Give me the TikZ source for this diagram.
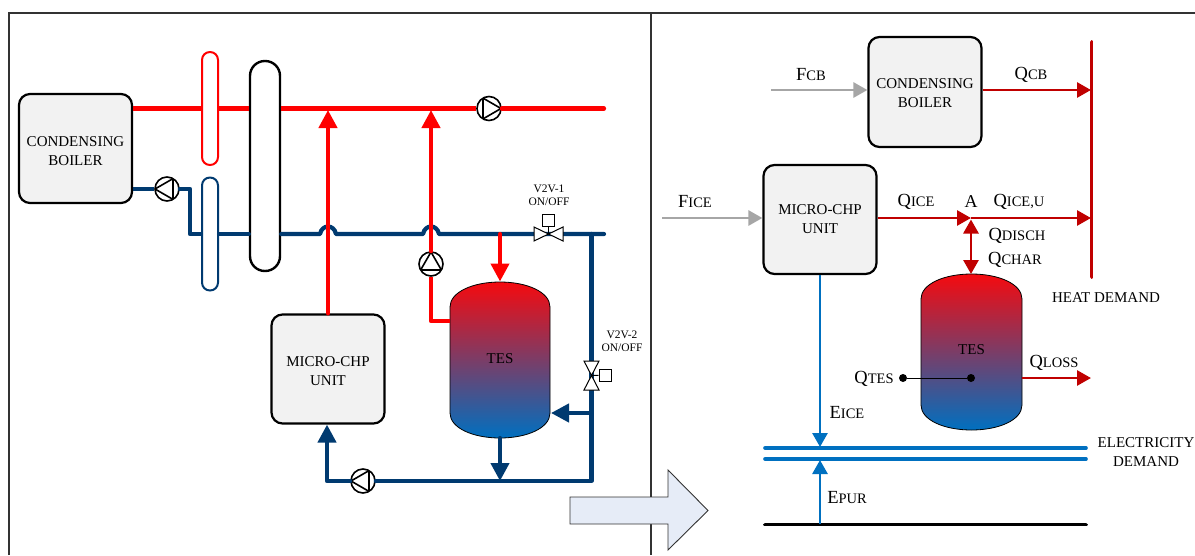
\documentclass[tikz,border=0pt]{standalone}
\usepackage{fontspec}
\setmainfont{Liberation Serif}
\usetikzlibrary{arrows.meta,calc}
\definecolor{pipered}{HTML}{FF0000}
\definecolor{pipeblue}{HTML}{003A70}
\definecolor{heatred}{HTML}{C00000}
\definecolor{elblue}{HTML}{0070C0}
\definecolor{fuelgray}{HTML}{A6A6A6}
\definecolor{boxgray}{HTML}{F2F2F2}
\definecolor{tanktop}{HTML}{F50A0F}
\definecolor{tankbot}{HTML}{0070C0}
\definecolor{bigarrow}{HTML}{E6ECF7}
\newcommand{\varlab}[2]{{\fontsize{18.5}{18}\selectfont #1}{\fontsize{14.5}{15}\selectfont #2}}
\tikzset{
  unitbox/.style={draw=black,line width=2.2pt,fill=boxgray,rounded corners=11pt,minimum width=113pt,minimum height=109pt,inner sep=0pt},
  boxtxt/.style={align=center,inner sep=0pt,font=\fontsize{15}{19}\selectfont},
  capsule/.style={draw=#1,line width=2pt,fill=white,rounded corners=7.9pt,minimum width=16pt,minimum height=113pt,inner sep=0pt},
  pump/.style={circle,draw=black,line width=1.6pt,fill=white,minimum size=24pt,inner sep=0pt,
    path picture={\draw[black,line width=1.6pt,line join=round,x=1pt,y=1pt,shift={(path picture bounding box.center)}] (#1:12)--({#1+120}:12)--({#1+240}:12)--cycle;}},
  redpipe/.style={pipered,line width=4.2pt,line cap=round,line join=round},
  bluepipe/.style={pipeblue,line width=4.2pt,line cap=round,line join=round},
  redtip/.style={redpipe,-{Triangle[length=18pt,width=18pt]}},
  bluetip/.style={bluepipe,-{Triangle[length=18pt,width=18pt]}},
  flowtip/.style={-{Triangle[length=14pt,width=15pt]},line width=2.8pt},
  ctrlbox/.style={draw=black,line width=1pt,fill=white,minimum size=12pt,inner sep=0pt},
  valvetri/.style={draw=black,line width=1pt,fill=white,line join=miter},
  smalltxt/.style={font=\fontsize{11.5}{13}\selectfont,align=center,inner sep=0pt},
  mediumtxt/.style={font=\fontsize{15}{19}\selectfont,align=center,inner sep=0pt},
  varlabel/.style={inner sep=0pt},
  tankbody/.style={draw=black,line width=.8pt,top color=tanktop,bottom color=tankbot,middle color=tanktop!50!tankbot},
  dotnode/.style={circle,fill=black,minimum size=8pt,inner sep=0pt},
  framing/.style={draw=black!80,line width=1.3pt}
}
\begin{document}
\begin{tikzpicture}[x=1pt,y=-1pt]
\useasboundingbox (0,0) rectangle (1195,555);
% frame
\coordinate (ftl) at (9,13); \coordinate (ftr) at (1195,13); \coordinate (fbl) at (9,555);
\coordinate (dt) at (651,13); \coordinate (db) at (651,555);
\draw[framing] (fbl) -- (ftl) -- (ftr);
\draw[framing] (dt) -- (db);

%%% LEFT PANEL
\node[unitbox] (cb1) at (75.5,148.5) {};
\node[boxtxt] (cb1t) at (75.5,151.5) {CONDENSING\\BOILER};
\node[unitbox] (mc1) at (328,369) {};
\node[boxtxt] (mc1t) at (328,371) {MICRO-CHP\\UNIT};
\node[capsule=pipered] (hr) at (210,108.5) {};
\node[capsule=pipeblue] (hb) at (210,234) {};
\node[draw=black,line width=2.4pt,fill=white,rounded corners=14.8pt,minimum width=30pt,minimum height=210pt,inner sep=0pt] (hx) at (265,166) {};
\node[pump=0] (p4) at (489,108.5) {};
\node[pump=180] (p1) at (167,189) {};
\node[pump=90] (p3) at (431,264) {};
\node[pump=180] (p2) at (363,481) {};

% tank
\shade[tankbody] (450,307) .. controls (450,292) and (473,282) .. (500,282) .. controls (527,282) and (550,292) .. (550,307) -- (550,413) .. controls (550,428) and (527,438) .. (500,438) .. controls (473,438) and (450,428) .. (450,413) -- cycle;
\node[font=\fontsize{15}{17}\selectfont,inner sep=0pt] (tes1) at (500,359) {TES};
\coordinate (tes1top) at (500,281.5); \coordinate (tes1bot) at (500,438);
\coordinate (tes1l) at (450,321); \coordinate (tes1r) at (551,413);

% hot pipes
\coordinate (redend) at (604,108.5);
\coordinate (j1) at (328,110); \coordinate (j2) at (431,110);
\coordinate (rb) at (431,321);
\coordinate (bluetap) at (500,234);
\draw[redpipe,line cap=butt] (cb1.east|-hr.west) -- (hr.west);
\draw[redpipe,line cap=butt] (hr.east) -- (hx.west|-hr.east);
\draw[redpipe,line cap=butt] (hx.east|-hr.east) -- (p4.west);
\draw[redpipe] (p4.east) -- (redend);

% cold pipes
\coordinate (c1) at (190,189); \coordinate (c2) at (190,234);
\coordinate (bendA) at (320,234); \coordinate (bendB) at (336,234);
\coordinate (bendC) at (423,234); \coordinate (bendD) at (439,234);
\coordinate (blueend) at (604,234);
\coordinate (rc) at (591.5,234);
\coordinate (rd) at (591.5,481);
\coordinate (rf) at (327,481);
\coordinate (rg) at (591.5,413);
\draw[bluepipe,line cap=butt] (cb1.east|-p1.west) -- (p1.west);
\draw[bluepipe] (p1.east) -- (c1) -- (c2) -- (hb.west);
\draw[bluepipe] (hb.east) -- (hx.west|-hb.east);
\draw[bluepipe] (hx.east|-hb.east) -- (bendA) .. controls (322,224) and (334,224) .. (bendB)
   -- (bendC) .. controls (425,224) and (437,224) .. (bendD) -- (blueend);
\draw[bluepipe] (rc) -- (rd) -- (p2.east);
\draw[bluetip] (p2.west) -- (rf) -- (mc1.south-|rf);
\draw[bluetip] (rg) -- (tes1r);
\draw[bluetip] (tes1bot) -- (500,481);

% vertical red
\draw[redtip] (mc1.north-|j1) -- (j1);
\draw[redpipe,line cap=butt] (tes1l) -- (rb) -- (p3.south);
\draw[redtip] (p3.north) -- (j2);
\draw[redtip] (bluetap) -- (tes1top);

% valves
\coordinate (v1) at (548.5,234);
\draw[valvetri] (v1) -- (534,227) -- (534,241) -- cycle;
\draw[valvetri] (v1) -- (563,227) -- (563,241) -- cycle;
\node[ctrlbox] (v1b) at (548.5,220) {};
\draw[black,line width=1pt] (v1) -- (v1b);
\coordinate (v2) at (591.5,375.5);
\draw[valvetri] (v2) -- (584,361) -- (599,361) -- cycle;
\draw[valvetri] (v2) -- (584,390) -- (599,390) -- cycle;
\node[ctrlbox] (v2b) at (605,375) {};
\draw[black,line width=1pt] (v2) -- (v2b);
\node[smalltxt] (v1t) at (549,195) {V2V-1\\ON/OFF};
\node[smalltxt] (v2t) at (622,341) {V2V-2\\ON/OFF};

% big arrow
\draw[draw=black!80,line width=.9pt,fill=bigarrow,line join=miter] (570,497) -- (668,497) -- (668,470) -- (708,510.5) -- (668,550) -- (668,524) -- (570,524) -- cycle;

%%% RIGHT PANEL
\node[unitbox,minimum height=110pt] (cb2) at (925,92) {};
\node[boxtxt] (cb2t) at (925,93) {CONDENSING\\BOILER};
\node[unitbox,minimum height=109pt] (mc2) at (820,219.5) {};
\node[boxtxt] (mc2t) at (820,219.5) {MICRO-CHP\\UNIT};
\shade[tankbody] (921,299) .. controls (921,284) and (944,274) .. (971.5,274) .. controls (999,274) and (1022,284) .. (1022,299) -- (1022,405) .. controls (1022,420) and (999,430) .. (971.5,430) .. controls (944,430) and (921,420) .. (921,405) -- cycle;
\node[font=\fontsize{15}{17}\selectfont,inner sep=0pt] (tes2) at (971.5,350) {TES};
\coordinate (tes2top) at (971,274); \coordinate (tes2r) at (1022,378);

\coordinate (hd1) at (1091.5,42); \coordinate (hd2) at (1091.5,277);
\draw[heatred,line width=3.8pt,line cap=round] (hd1) -- (hd2);

\coordinate (f1) at (771,90); \coordinate (f2) at (662,218);
\draw[fuelgray,flowtip] (f1) -- (cb2.west|-f1);
\draw[fuelgray,flowtip] (f2) -- (mc2.west|-f2);
\coordinate (q1e) at (1091,90);
\draw[heatred,flowtip] (cb2.east|-q1e) -- (q1e);
\coordinate (nA) at (971,218); \coordinate (q2e) at (1091,218);
\draw[heatred,flowtip] (mc2.east|-nA) -- (nA);
\draw[heatred,flowtip] (nA) -- (q2e);
\draw[heatred,line width=2.8pt,{Triangle[length=14pt,width=15pt]}-{Triangle[length=14pt,width=15pt]}] (971,219.5) -- (tes2top);
\coordinate (lossend) at (1091,378);
\draw[heatred,flowtip] (tes2r) -- (lossend);

\node[dotnode] (qt1) at (903,378) {};
\node[dotnode] (qt2) at (971,378) {};
\draw[black,line width=1pt] (qt1) -- (qt2);

\coordinate (e1l) at (765,448); \coordinate (e1r) at (1086,448);
\coordinate (e2l) at (765,459); \coordinate (e2r) at (1086,459);
\coordinate (e3l) at (765,524.5); \coordinate (e3r) at (1086,524.5);
\draw[elblue,line width=3.6pt,line cap=round] (e1l) -- (e1r);
\draw[elblue,line width=3.6pt,line cap=round] (e2l) -- (e2r);
\draw[black,line width=3.8pt,line cap=round] (e3l) -- (e3r);
\coordinate (eA) at (820,447); \coordinate (eB) at (820,460); \coordinate (eC) at (820,524);
\draw[elblue,flowtip] (mc2.south-|eA) -- (eA);
\draw[elblue,flowtip] (eC) -- (eB);

% labels
\node[varlabel] (lFcb) at (811,75) {\varlab{F}{CB}};
\node[varlabel] (lQcb) at (1031,75) {\varlab{Q}{CB}};
\node[varlabel] (lFi) at (695,202) {\varlab{F}{ICE}};
\node[varlabel] (lQi) at (916,202) {\varlab{Q}{ICE}};
\node[varlabel,font=\fontsize{18}{18}\selectfont] (lA) at (971,202) {A};
\node[varlabel] (lQu) at (1019,202) {\varlab{Q}{ICE,U}};
\node[varlabel] (lQd) at (1017,236) {\varlab{Q}{DISCH}};
\node[varlabel] (lQc) at (1015,260) {\varlab{Q}{CHAR}};
\node[varlabel] (lQt) at (874,379) {\varlab{Q}{TES}};
\node[varlabel] (lQl) at (1054,363) {\varlab{Q}{LOSS}};
\node[varlabel] (lEi) at (847,413) {\varlab{E}{ICE}};
\node[varlabel] (lEp) at (847,498) {\varlab{E}{PUR}};
\node[mediumtxt] (lHd) at (1106,298) {HEAT DEMAND};
\node[mediumtxt] (lEd) at (1146,452) {ELECTRICITY\\DEMAND};
\end{tikzpicture}
\end{document}
